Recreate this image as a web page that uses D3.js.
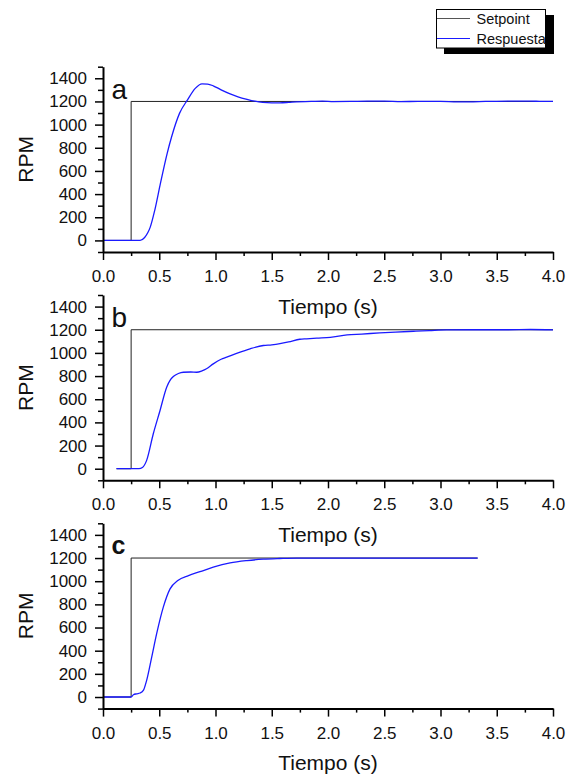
<!DOCTYPE html>
<html>
<head>
<meta charset="utf-8">
<script src="https://cdn.jsdelivr.net/npm/d3@7/dist/d3.min.js"></script>
<style>
  html, body { margin: 0; padding: 0; background: #fff; }
  svg { display: block; font-family: "Liberation Sans", Arial, sans-serif; }
</style>
</head>
<body>
<svg id="chart" width="567" height="777"></svg>
<script>
// Panel labels and axis texts
const panelNames = ["a", "b", "c"];
const xLabel = "Tiempo (s)";
const yLabel = "RPM";
const legendNames = ["Setpoint", "Respuesta"];

// Axis ticks
const xMajorTicks = [0, 0.5, 1, 1.5, 2, 2.5, 3, 3.5, 4];
const xMinorTicks = [0.25, 0.75, 1.25, 1.75, 2.25, 2.75, 3.25, 3.75];
const yMajorTicks = [0, 200, 400, 600, 800, 1000, 1200, 1400];
const yMinorTicks = [-100, 100, 300, 500, 700, 900, 1100, 1300, 1500];

// Setpoint step for each panel
const setTimeA = [0, 0.25, 0.25, 4.0];
const setRpmA = [0, 0, 1200, 1200];
const setTimeB = [0.12, 0.25, 0.25, 4.0];
const setRpmB = [0, 0, 1200, 1200];
const setTimeC = [0, 0.25, 0.25, 3.33];
const setRpmC = [0, 0, 1200, 1200];

// Panel a response
const timeA = [0, 0.25, 0.33, 0.37, 0.40, 0.42, 0.46, 0.51, 0.57, 0.61, 0.68, 0.75, 0.82, 0.88,
  0.93, 0.98, 1.05, 1.13, 1.20, 1.28, 1.35, 1.42, 1.50, 1.57, 1.65, 1.72, 1.85, 1.95, 2.05,
  2.20, 2.35, 2.50, 2.65, 2.80, 3.00, 3.15, 3.25, 3.40, 3.60, 3.80, 3.90, 4.00];
const rpmA = [0, 0, 0, 25, 70, 115, 260, 490, 750, 895, 1097, 1212, 1313, 1352,
  1350, 1335, 1300, 1265, 1240, 1218, 1202, 1192, 1188, 1188, 1192, 1197, 1200, 1203, 1199,
  1200, 1203, 1203, 1199, 1200, 1200, 1197, 1197, 1200, 1203, 1203, 1200, 1200];

// Panel b response
const timeB = [0.12, 0.32, 0.35, 0.388, 0.447, 0.507, 0.566, 0.60, 0.625, 0.67, 0.714, 0.78,
  0.833, 0.88, 0.92, 0.98, 1.05, 1.10, 1.20, 1.307, 1.425, 1.50, 1.573, 1.65, 1.75, 1.81,
  1.90, 2.02, 2.17, 2.30, 2.46, 2.60, 2.76, 2.90, 3.05, 3.30, 3.60, 3.80, 4.00];
const rpmB = [0, 0, 10, 72, 302, 503, 704, 770, 796, 822, 833, 835,
  833, 845, 863, 905, 945, 963, 1000, 1035, 1064, 1070, 1080, 1095, 1118, 1122,
  1128, 1135, 1156, 1163, 1173, 1180, 1187, 1193, 1199, 1200, 1200, 1202, 1198];

// Panel c response
const timeC = [0, 0.25, 0.27, 0.30, 0.33, 0.36, 0.388, 0.433, 0.477, 0.536, 0.596, 0.665,
  0.76, 0.862, 0.98, 1.13, 1.28, 1.425, 1.57, 1.72, 2.0, 2.5, 3.0, 3.33];
const rpmC = [0, 0, 20, 28, 35, 60, 144, 345, 547, 776, 934, 1006,
  1049, 1082, 1121, 1158, 1178, 1190, 1196, 1200, 1200, 1200, 1200, 1200];

const setpoints = [[setTimeA, setRpmA], [setTimeB, setRpmB], [setTimeC, setRpmC]];
const responses = [[timeA, rpmA], [timeB, rpmB], [timeC, rpmC]];

const svg = d3.select("#chart");

const x = d3.scaleLinear().domain([0, 4]).range([103, 553]);
const panelTop = 66.7, panelStep = 228.3, panelHeight = 185.3;

panelNames.forEach((name, i) => {
  const top = panelTop + i * panelStep;
  const y = d3.scaleLinear().domain([-100, 1500]).range([top + panelHeight, top]);
  const g = svg.append("g");

  // setpoint (drawn under the response)
  const [st, sv] = setpoints[i];
  g.append("path")
    .attr("d", d3.line().x(d => x(d[0])).y(d => y(d[1]))(st.map((t, k) => [t, sv[k]])))
    .attr("fill", "none")
    .attr("stroke", "#222")
    .attr("stroke-width", 1);

  const [rt, rv] = responses[i];
  g.append("path")
    .attr("d", d3.line().curve(d3.curveMonotoneX).x(d => x(d[0])).y(d => y(d[1]))(rt.map((t, k) => [t, rv[k]])))
    .attr("fill", "none")
    .attr("stroke", "#1a1aff")
    .attr("stroke-width", 1.3);

  // x axis: minor then major
  const xa = y(-100);
  g.append("g").attr("transform", `translate(0,${xa})`)
    .call(d3.axisBottom(x).tickValues(xMinorTicks).tickSize(4).tickSizeOuter(0).tickFormat(""))
    .call(s => s.select(".domain").remove());
  g.append("g").attr("transform", `translate(0,${xa})`)
    .call(d3.axisBottom(x).tickValues(xMajorTicks).tickSize(8).tickSizeOuter(0)
      .tickPadding(10).tickFormat(d3.format(".1f")));

  // y axis
  g.append("g").attr("transform", `translate(${x(0)},0)`)
    .call(d3.axisLeft(y).tickValues(yMinorTicks).tickSize(5).tickSizeOuter(0).tickFormat(""))
    .call(s => s.select(".domain").remove());
  g.append("g").attr("transform", `translate(${x(0)},0)`)
    .call(d3.axisLeft(y).tickValues(yMajorTicks).tickSize(8).tickSizeOuter(0)
      .tickPadding(8).tickFormat(d3.format("d")));

  g.selectAll(".domain").attr("stroke", "#000").attr("stroke-width", 2);
  g.selectAll(".tick line").attr("stroke", "#000").attr("stroke-width", 1.5);
  g.selectAll(".tick text")
    .attr("font-family", "'Liberation Sans', Arial, sans-serif")
    .attr("font-size", 17)
    .attr("fill", "#111");

  // axis titles
  g.append("text")
    .attr("x", (x(0) + x(4)) / 2)
    .attr("y", xa + 61.5)
    .attr("text-anchor", "middle")
    .attr("font-size", 21)
    .attr("fill", "#111")
    .text(xLabel);

  g.append("text")
    .attr("transform", `translate(33,${top + panelHeight / 2}) rotate(-90)`)
    .attr("text-anchor", "middle")
    .attr("font-size", 21)
    .attr("fill", "#111")
    .text(yLabel);

  // panel letter
  g.append("text")
    .attr("x", 111.5)
    .attr("y", y(0) - 141.7 - (name === "c" ? 1 : 0))
    .attr("font-size", name === "c" ? 25 : 28)
    .attr("font-weight", name === "c" ? "bold" : "normal")
    .attr("fill", "#111")
    .text(name);
});

// legend with drop shadow
const lg = svg.append("g");
lg.append("rect").attr("x", 444).attr("y", 15).attr("width", 110).attr("height", 39).attr("fill", "#000");
lg.append("rect").attr("x", 436.5).attr("y", 9.5).attr("width", 109).attr("height", 38.5)
  .attr("fill", "#fff").attr("stroke", "#000").attr("stroke-width", 1);
const legendColors = ["#555", "#1a1aff"];
legendNames.forEach((n, k) => {
  const ly = 18.5 + k * 20;
  lg.append("line").attr("x1", 437).attr("x2", 470).attr("y1", ly).attr("y2", ly)
    .attr("stroke", legendColors[k]).attr("stroke-width", 1.2);
  lg.append("text").attr("x", 476.5).attr("y", ly + 5.3)
    .attr("font-size", 14.5).attr("fill", "#111").text(n);
});
</script>
</body>
</html>
